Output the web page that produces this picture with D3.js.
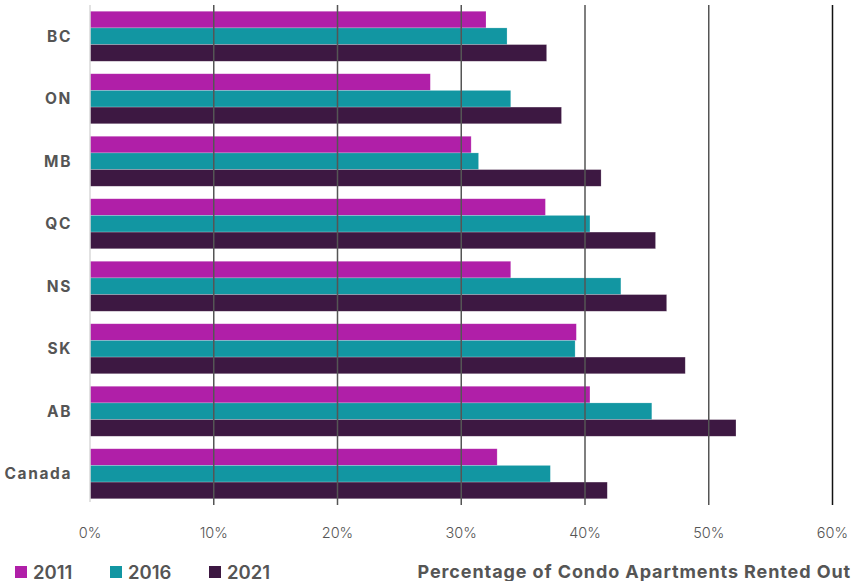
<!DOCTYPE html>
<html lang="en">
  <head>
    <meta charset="UTF-8" />
    <title>Condo Apartments Rented Out</title>
    <script src="https://cdn.jsdelivr.net/npm/d3@7"></script>
    <style>
      body { margin: 0; background: #fff; }
      svg { display: block; font-family: Inter, "Noto Sans", sans-serif; }
    </style>
  </head>
  <body>
    <div id="chart"></div>
    <script>
      // data
      let regions = ["BC", "ON", "MB", "QC", "NS", "SK", "AB", "Canada"];
      let years = ["2011", "2016", "2021"];
      let values2011 = [32.0, 27.5, 30.8, 36.8, 34.0, 39.3, 40.4, 32.9];
      let values2016 = [33.7, 34.0, 31.4, 40.4, 42.9, 39.2, 45.4, 37.2];
      let values2021 = [36.9, 38.1, 41.3, 45.7, 46.6, 48.1, 52.2, 41.8];
      let xTicks = [0, 10, 20, 30, 40, 50, 60];
      let colors = ["#b01fa8", "#1296a2", "#3d1842"];

      let width = 852;
      let height = 581;
      let margin = { top: 5, right: 20, bottom: 76, left: 90 };

      let rows = regions.map(function (r, i) {
        return { region: r, vals: [values2011[i], values2016[i], values2021[i]] };
      });

      let svg = d3
        .select("#chart")
        .append("svg")
        .attr("width", width)
        .attr("height", height);

      let x = d3.scaleLinear().domain([0, 60]).range([margin.left, 832.5]);

      let y = d3
        .scaleBand()
        .domain(regions)
        .range([margin.top, height - margin.bottom])
        .paddingInner(0.2)
        .paddingOuter(0.1);

      let y1 = d3.scaleBand().domain(years).range([0, y.bandwidth()]);

      let color = d3.scaleOrdinal().domain(years).range(colors);

      // bars
      let groups = svg
        .append("g")
        .selectAll("g")
        .data(rows)
        .enter()
        .append("g")
        .attr("transform", function (d) {
          return "translate(0," + y(d.region) + ")";
        });

      groups
        .selectAll("rect")
        .data(function (d) {
          return years.map(function (yr, i) {
            return { year: yr, value: d.vals[i] };
          });
        })
        .enter()
        .append("rect")
        .attr("x", x(0))
        .attr("y", function (d) {
          return y1(d.year);
        })
        .attr("width", function (d) {
          return x(d.value) - x(0);
        })
        .attr("height", y1.bandwidth())
        .attr("fill", function (d) {
          return color(d.year);
        })
        .attr("stroke", "#ffffff")
        .attr("stroke-opacity", 0.35)
        .attr("stroke-width", 0.6);

      // gridlines drawn over the bars
      let gridTop = margin.top;
      let gridBottom = height - margin.bottom;
      svg
        .append("g")
        .selectAll("line")
        .data(xTicks.slice(1))
        .enter()
        .append("line")
        .attr("x1", function (d) {
          return x(d);
        })
        .attr("x2", function (d) {
          return x(d);
        })
        .attr("y1", gridTop)
        .attr("y2", gridBottom)
        .attr("stroke", function (d) {
          return d === 60 ? "#111" : "#555";
        })
        .attr("stroke-width", 1.5);

      // baseline
      svg
        .append("line")
        .attr("x1", x(0))
        .attr("x2", x(0))
        .attr("y1", gridTop)
        .attr("y2", gridBottom - 3)
        .attr("stroke", "#d8d8d8")
        .attr("stroke-width", 1.5);

      // x tick labels
      svg
        .append("g")
        .selectAll("text")
        .data(xTicks)
        .enter()
        .append("text")
        .attr("x", function (d) {
          return x(d);
        })
        .attr("y", 538)
        .attr("text-anchor", "middle")
        .attr("font-size", "14.5px")
        .attr("font-weight", 300)
        .attr("fill", "#555")
        .text(function (d) {
          return d + "%";
        });

      // region labels
      svg
        .append("g")
        .selectAll("text")
        .data(regions)
        .enter()
        .append("text")
        .attr("x", 72)
        .attr("y", function (d) {
          return y(d) + y.bandwidth() / 2;
        })
        .attr("dy", "0.35em")
        .attr("text-anchor", "end")
        .attr("font-size", "15.5px")
        .attr("font-weight", 700)
        .attr("letter-spacing", "1.6px")
        .attr("fill", "#555")
        .text(function (d) {
          return d;
        });

      // legend
      let legendX = [15, 110, 209];
      let legend = svg
        .append("g")
        .selectAll("g")
        .data(years)
        .enter()
        .append("g")
        .attr("transform", function (d, i) {
          return "translate(" + legendX[i] + ",566)";
        });

      legend
        .append("rect")
        .attr("width", 12)
        .attr("height", 12)
        .attr("fill", color);

      legend
        .append("text")
        .attr("x", 18)
        .attr("y", 12.5)
        .attr("font-size", "18.5px")
        .attr("font-weight", 600)
        .attr("fill", "#555")
        .text(function (d) {
          return d;
        });

      // axis title
      svg
        .append("text")
        .attr("x", 851)
        .attr("y", 578)
        .attr("text-anchor", "end")
        .attr("font-size", "18px")
        .attr("font-weight", 700)
        .attr("letter-spacing", "0.9px")
        .attr("fill", "#555")
        .text("Percentage of Condo Apartments Rented Out");
    </script>
  </body>
</html>
